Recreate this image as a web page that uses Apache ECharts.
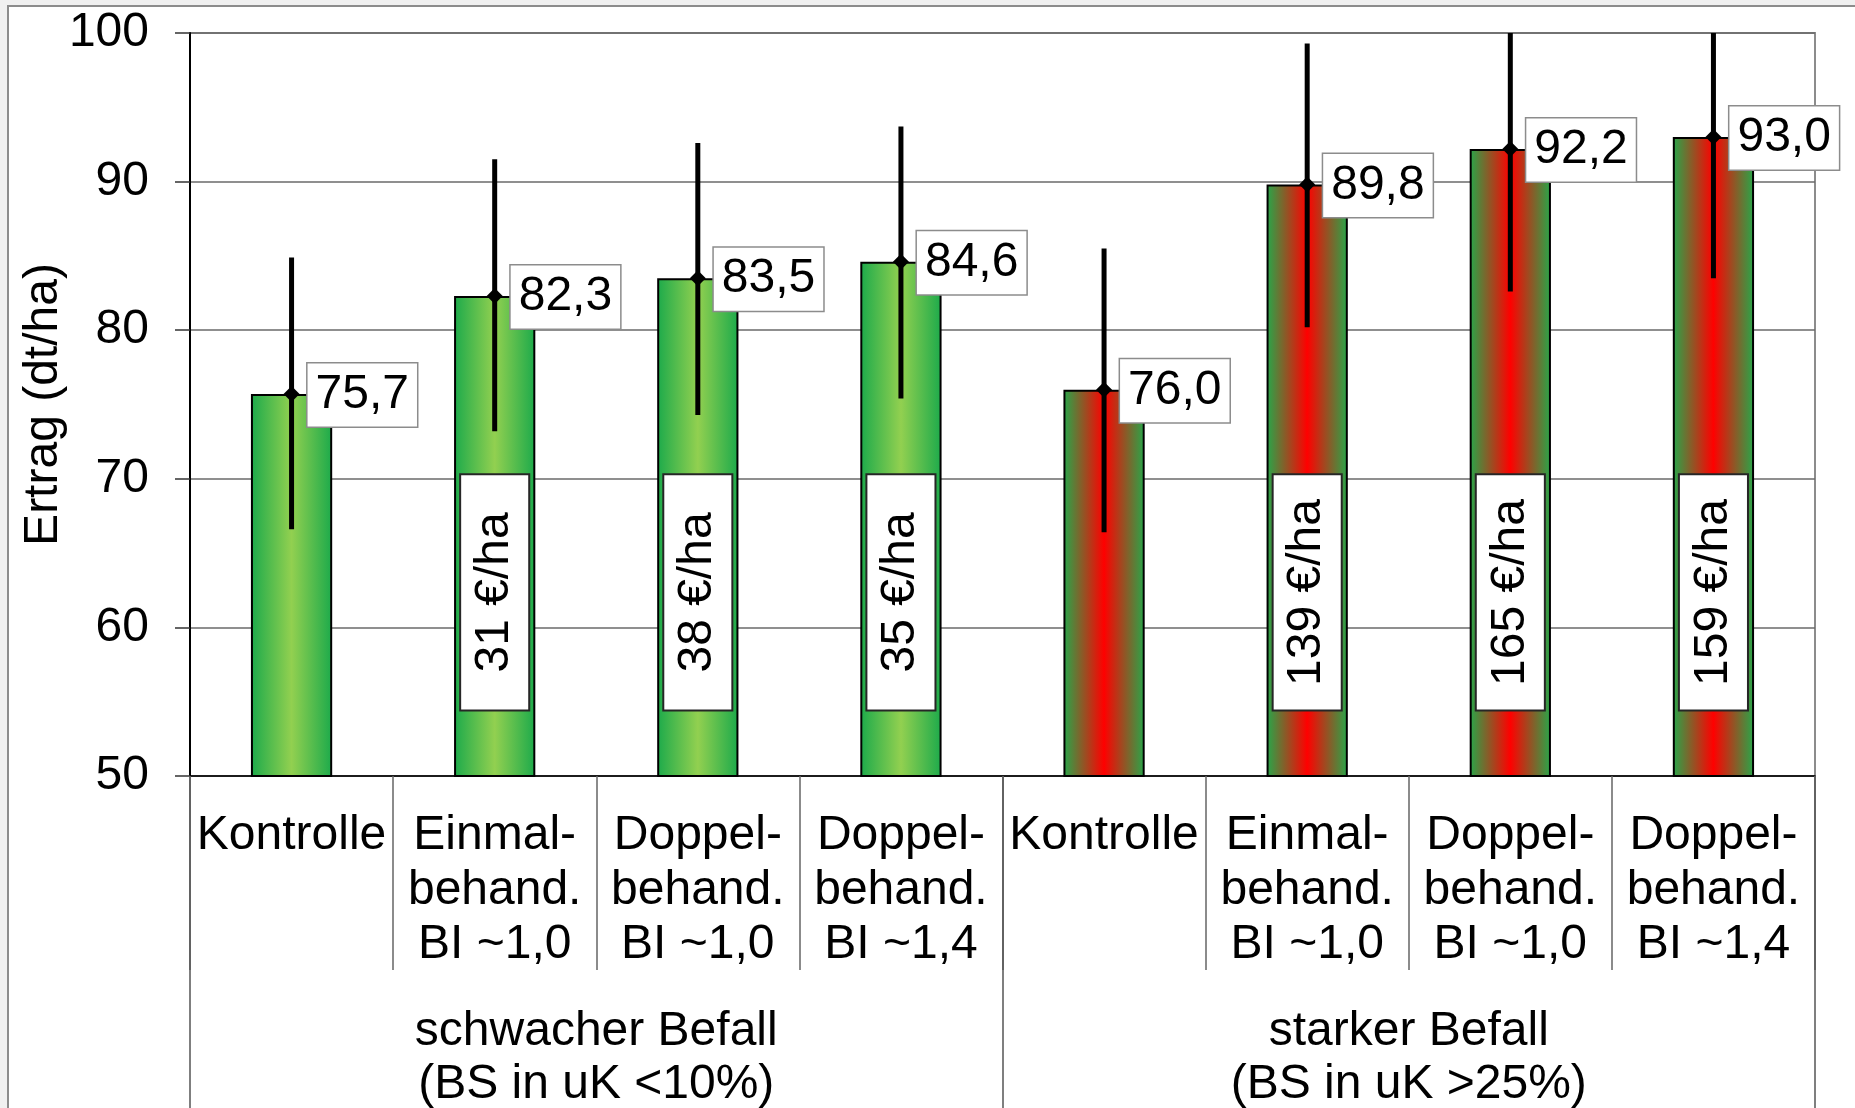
<!DOCTYPE html>
<html><head><meta charset="utf-8">
<script src="https://cdn.jsdelivr.net/npm/echarts@6/dist/echarts.min.js"></script>
<style>
html,body{margin:0;padding:0;background:#f0f0f0;overflow:hidden}
#frame{position:absolute;left:7px;top:5px;width:1900px;height:1200px;background:#fff;border:2px solid #8c8c8c;box-sizing:border-box}
#chart{position:absolute;left:0;top:0;width:1855px;height:1108px}
</style></head><body><div id="frame"></div><div id="chart"></div>
<script>
const categories = ['Kontrolle', 'Einmal-\nbehand.\nBI ~1,0', 'Doppel-\nbehand.\nBI ~1,0', 'Doppel-\nbehand.\nBI ~1,4',
                    'Kontrolle', 'Einmal-\nbehand.\nBI ~1,0', 'Doppel-\nbehand.\nBI ~1,0', 'Doppel-\nbehand.\nBI ~1,4'];
const groups = ['schwacher Befall\n(BS in uK <10%)', 'starker Befall\n(BS in uK >25%)'];
const groupOfCategory = [0, 0, 0, 0, 1, 1, 1, 1];
const yields = [75.7, 82.3, 83.5, 84.6, 76.0, 89.8, 92.2, 93.0];
const errLow = [66.6, 73.2, 74.3, 75.4, 66.4, 80.2, 82.6, 83.5];
const errHigh = [84.9, 91.5, 92.6, 93.7, 85.5, 99.3, 101.8, 102.5];
const costs = [null, 31, 38, 35, null, 139, 165, 159];
const yTicks = [50, 60, 70, 80, 90, 100];

const Y_MIN = 50, Y_MAX = 100;
const COST_BOX_TOP = 70.3, COST_BOX_BOTTOM = 54.4;
const FONT = "'Liberation Sans', Arial, sans-serif";
const FS = 48;

function grad(edge, center) {
  return new echarts.graphic.LinearGradient(0, 0, 1, 0, [
    {offset: 0, color: edge}, {offset: 0.5, color: center}, {offset: 1, color: edge}
  ]);
}
const groupColors = [grad('#1caa4b', '#92d050'), grad('#26a84a', '#ff0000')];
const fmt = v => v.toFixed(1).replace('.', ',');

const chart = echarts.init(document.getElementById('chart'), null, {renderer: 'canvas'});
chart.setOption({
  backgroundColor: 'transparent',
  animation: false,
  grid: {left: 190, top: 33, right: 40, bottom: 332, containLabel: false, outerBoundsMode: 'none',
         show: true, borderColor: '#8c8c8c', borderWidth: 2, backgroundColor: 'transparent'},
  xAxis: [{
    type: 'category', data: categories, position: 'bottom',
    axisLine: {onZero: false, lineStyle: {color: '#000', width: 1.5}},
    axisTick: {show: true, interval: 0, length: 194, lineStyle: {color: '#666', width: 1.5}},
    axisLabel: {interval: 0, margin: 33, fontSize: FS, lineHeight: 54.5, color: '#000', fontFamily: FONT, hideOverlap: false}
  }, {
    type: 'category', data: groups, position: 'bottom',
    axisLine: {show: false, onZero: false},
    axisTick: {show: true, interval: 0, length: 340, lineStyle: {color: '#555', width: 1.5}},
    axisLabel: {interval: 0, margin: 229, fontSize: FS, lineHeight: 53, color: '#000', fontFamily: FONT, hideOverlap: false}
  }],
  yAxis: {
    type: 'value', min: Y_MIN, max: Y_MAX, interval: 10,
    name: 'Ertrag (dt/ha)', nameLocation: 'middle', nameGap: 122, nameMoveOverlap: false,
    nameTextStyle: {fontSize: FS, color: '#000', fontFamily: FONT},
    axisLine: {show: true, onZero: false, lineStyle: {color: '#000', width: 2}},
    axisTick: {show: true, length: 15, lineStyle: {color: '#333', width: 1.5}},
    axisLabel: {margin: 41, fontSize: FS, color: '#000', fontFamily: FONT,
                formatter: v => yTicks.indexOf(v) >= 0 ? String(v) : ''},
    splitLine: {show: true, lineStyle: {color: '#6a6a6a', width: 1.5}}
  },
  series: [{
    type: 'bar', xAxisIndex: 0, barWidth: '40%',
    data: yields.map((v, i) => ({value: v, itemStyle: {color: groupColors[groupOfCategory[i]]}})),
    itemStyle: {borderColor: '#000', borderWidth: 2},
    z: 2
  }, {
    type: 'custom', xAxisIndex: 0, z: 5,
    data: yields.map((v, i) => [i, v, errLow[i], errHigh[i]]),
    encode: {x: 0, y: 1},
    renderItem: function (params, api) {
      const i = api.value(0);
      const v = api.value(1), lo = api.value(2), hi = api.value(3);
      const p = api.coord([i, v]);
      const pLo = api.coord([i, Math.max(lo, Y_MIN)]);
      const pHi = api.coord([i, Math.min(hi, Y_MAX)]);
      const band = api.size([1, 0])[0];
      const children = [];
      const cost = costs[i];
      if (cost != null) {
        const top = api.coord([i, COST_BOX_TOP])[1];
        const bot = api.coord([i, COST_BOX_BOTTOM])[1];
        const w = band * 0.34;
        children.push({type: 'rect', shape: {x: p[0] - w / 2, y: top, width: w, height: bot - top},
          style: {fill: '#fff', stroke: '#262626', lineWidth: 2}});
        children.push({type: 'text', x: p[0], y: (top + bot) / 2, rotation: Math.PI / 2,
          style: {text: cost + ' €/ha', x: 0, y: 0, align: 'center', verticalAlign: 'middle',
                  fontSize: FS, fontFamily: FONT, fill: '#000'}});
      }
      children.push({type: 'line', shape: {x1: pLo[0], y1: pLo[1], x2: pHi[0], y2: pHi[1]},
        style: {stroke: '#000', lineWidth: 5}});
      const d = 8;
      children.push({type: 'polygon', shape: {points: [[p[0], p[1] - d], [p[0] + d, p[1]], [p[0], p[1] + d], [p[0] - d, p[1]]]},
        style: {fill: '#000'}});
      children.push({type: 'text', style: {text: fmt(v), x: p[0] + 16, y: p[1] + 1, align: 'left', verticalAlign: 'middle',
        fontSize: FS, fontFamily: FONT, fill: '#000', lineHeight: 53,
        backgroundColor: '#fff', borderColor: '#8c8c8c', borderWidth: 1.5, padding: [8, 8, 2, 8]}});
      return {type: 'group', children: children};
    }
  }]
});
</script></body></html>
